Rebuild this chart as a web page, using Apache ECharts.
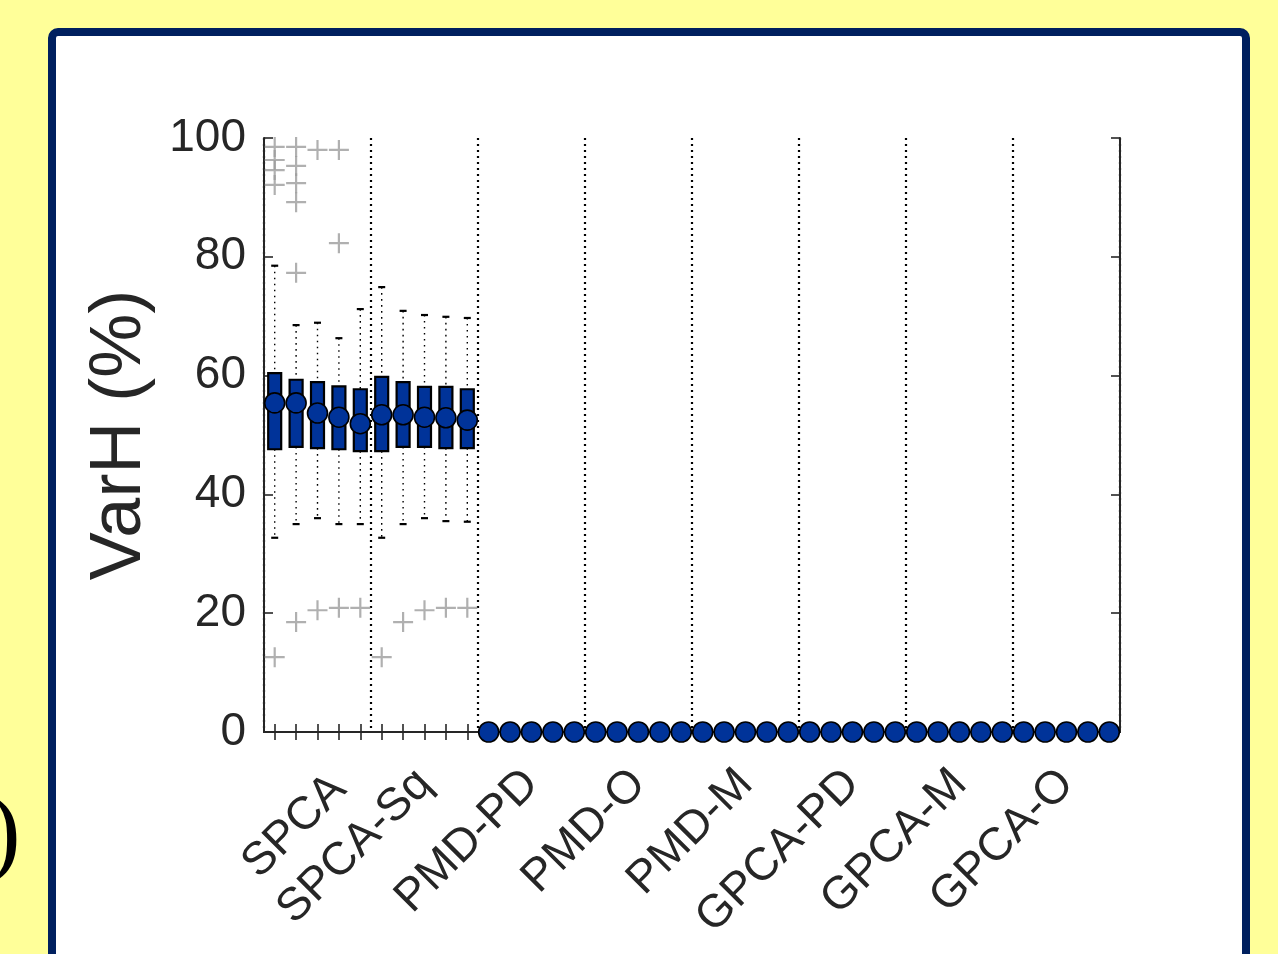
<!DOCTYPE html>
<html>
<head>
<meta charset="utf-8">
<script src="https://cdn.jsdelivr.net/npm/echarts@6/dist/echarts.min.js"></script>
<style>
  html, body { margin: 0; padding: 0; background: #ffff99; }
  #chart { width: 1278px; height: 954px; }
</style>
</head>
<body>
<div id="chart"></div>
<script>
// Method groups shown on the x axis; each group holds five runs.
const groups = ['SPCA', 'SPCA-Sq', 'PMD-PD', 'PMD-O', 'PMD-M', 'GPCA-PD', 'GPCA-M', 'GPCA-O'];
const runsPerGroup = 5;

// Box statistics per run (VarH, %), 40 runs in group order.
const whiskerLow = [32.7, 35.0, 36.0, 35.0, 35.0, 32.7, 35.0, 36.0, 35.5, 35.4,
  0, 0, 0, 0, 0, 0, 0, 0, 0, 0, 0, 0, 0, 0, 0, 0, 0, 0, 0, 0,
  0, 0, 0, 0, 0, 0, 0, 0, 0, 0];
const quartile1 = [47.6, 48.0, 47.8, 47.6, 47.3, 47.3, 48.0, 48.0, 47.8, 47.8,
  0, 0, 0, 0, 0, 0, 0, 0, 0, 0, 0, 0, 0, 0, 0, 0, 0, 0, 0, 0,
  0, 0, 0, 0, 0, 0, 0, 0, 0, 0];
const medians = [55.4, 55.4, 53.7, 53.0, 51.9, 53.4, 53.4, 53.0, 52.9, 52.5,
  0, 0, 0, 0, 0, 0, 0, 0, 0, 0, 0, 0, 0, 0, 0, 0, 0, 0, 0, 0,
  0, 0, 0, 0, 0, 0, 0, 0, 0, 0];
const quartile3 = [60.4, 59.3, 58.9, 58.2, 57.7, 59.8, 58.9, 58.1, 58.1, 57.7,
  0, 0, 0, 0, 0, 0, 0, 0, 0, 0, 0, 0, 0, 0, 0, 0, 0, 0, 0, 0,
  0, 0, 0, 0, 0, 0, 0, 0, 0, 0];
const whiskerHigh = [78.5, 68.5, 68.9, 66.3, 71.2, 74.9, 70.9, 70.2, 69.9, 69.7,
  0, 0, 0, 0, 0, 0, 0, 0, 0, 0, 0, 0, 0, 0, 0, 0, 0, 0, 0, 0,
  0, 0, 0, 0, 0, 0, 0, 0, 0, 0];

// Outliers per run (only the first ten runs have any).
const outliers = [
  [98.5, 96.3, 94.6, 92.1, 12.6],
  [98.5, 95.3, 92.4, 89.2, 77.3, 18.5],
  [98.0, 20.5],
  [98.0, 82.3, 20.9],
  [20.9],
  [12.6],
  [18.5],
  [20.5],
  [20.9],
  [20.9]
];

const yTicks = [0, 20, 40, 60, 80, 100];

const runNames = groups.flatMap(g => Array.from({ length: runsPerGroup }, (_, k) => g + ' #' + (k + 1)));
const boxRows = runNames.map((_, i) => [i, whiskerLow[i], quartile1[i], medians[i], quartile3[i], whiskerHigh[i]]);
const outlierPoints = [];
outliers.forEach((vals, i) => vals.forEach(v => outlierPoints.push([i, v])));

const ink = '#262626';
const boxBlue = '#003399';
const font = 'Liberation Sans, Arial, Helvetica, sans-serif';

// The first group's label is hung under its fourth run instead of the group centre.
const firstLabelRun = 3;

function renderBox(params, api) {
  const i = api.value(0);
  const lo = api.coord([i, api.value(1)]);
  const q1 = api.coord([i, api.value(2)]);
  const md = api.coord([i, api.value(3)]);
  const q3 = api.coord([i, api.value(4)]);
  const hi = api.coord([i, api.value(5)]);
  const x = lo[0];
  const halfBox = 6.5, halfCap = 3.5, r = 10;
  const dotted = { stroke: '#000', lineWidth: 1.4, lineDash: [1.6, 4.4] };
  const cap = { stroke: '#000', lineWidth: 2.2 };
  return {
    type: 'group',
    children: [
      { type: 'line', shape: { x1: x, y1: hi[1], x2: x, y2: q3[1] }, style: dotted },
      { type: 'line', shape: { x1: x, y1: q1[1], x2: x, y2: lo[1] }, style: dotted },
      { type: 'line', shape: { x1: x - halfCap, y1: hi[1], x2: x + halfCap, y2: hi[1] }, style: cap },
      { type: 'line', shape: { x1: x - halfCap, y1: lo[1], x2: x + halfCap, y2: lo[1] }, style: cap },
      { type: 'rect', shape: { x: x - halfBox, y: q3[1], width: 2 * halfBox, height: q1[1] - q3[1] },
        style: { fill: boxBlue, stroke: '#000', lineWidth: 2.2 } },
      { type: 'circle', shape: { cx: x, cy: md[1], r: r },
        style: { fill: boxBlue, stroke: '#000', lineWidth: 1.6 } }
    ]
  };
}

const chart = echarts.init(document.getElementById('chart'), null, { renderer: 'canvas' });

const catAxisBase = {
  type: 'category',
  data: runNames,
  boundaryGap: true,
  axisLine: { show: true, lineStyle: { color: ink, width: 2 } },
  axisTick: { show: true, inside: true, length: 8, alignWithLabel: true, interval: 0, lineStyle: { color: ink, width: 1.6 } },
  axisLabel: { show: false },
  splitLine: { show: false }
};

const valAxisBase = {
  type: 'value',
  min: yTicks[0],
  max: yTicks[yTicks.length - 1],
  interval: yTicks[1] - yTicks[0],
  axisLine: { show: true, lineStyle: { color: ink, width: 2 } },
  axisTick: { show: true, inside: true, length: 9, lineStyle: { color: ink, width: 1.6 } },
  splitLine: { show: false }
};

const slantedLabel = { interval: 0, rotate: 45, fontSize: 46, color: ink, fontFamily: font };

chart.setOption({
  backgroundColor: '#ffff99',
  animation: false,
  textStyle: { fontFamily: font },
  graphic: [
    {
      type: 'rect', z: -10,
      shape: { x: 52, y: 32, width: 1194, height: 980, r: 6 },
      style: { fill: '#ffffff', stroke: '#00205f', lineWidth: 8 }
    },
    {
      type: 'text', z: -5, left: -12, top: 788,
      style: { text: ')', fontSize: 98, fontFamily: 'Liberation Serif, serif', fill: '#000' }
    }
  ],
  grid: { left: 264, top: 138, width: 856, height: 594, containLabel: false },
  xAxis: [
    Object.assign({}, catAxisBase, { position: 'bottom' }),
    Object.assign({}, catAxisBase, { position: 'top' }),
    {
      // group axis: separators between groups and the remaining group labels
      type: 'category',
      data: groups,
      position: 'bottom',
      boundaryGap: true,
      axisLine: { show: false },
      axisTick: { show: false },
      axisLabel: Object.assign({}, slantedLabel, {
        margin: 45,
        formatter: (v, idx) => (idx === 0 ? '' : v)
      }),
      splitLine: { show: true, interval: 0, lineStyle: { color: '#000', width: 2.2, type: [2, 4] } }
    },
    {
      // run axis carrying the first group's label
      type: 'category',
      data: runNames,
      position: 'bottom',
      boundaryGap: true,
      axisLine: { show: false },
      axisTick: { show: false },
      axisLabel: Object.assign({}, slantedLabel, {
        margin: 50,
        formatter: (v, idx) => (idx === firstLabelRun ? groups[0] : '')
      }),
      splitLine: { show: false }
    }
  ],
  yAxis: [
    Object.assign({}, valAxisBase, {
      position: 'left',
      axisLabel: { fontSize: 46, color: ink, margin: 18, fontFamily: font },
      name: 'VarH (%)',
      nameLocation: 'middle',
      nameGap: 108,
      nameRotate: 90,
      nameTextStyle: { fontSize: 72, color: ink, fontFamily: font }
    }),
    Object.assign({}, valAxisBase, { position: 'right', axisLabel: { show: false } })
  ],
  series: [
    {
      type: 'scatter',
      xAxisIndex: 0,
      yAxisIndex: 0,
      data: outlierPoints,
      symbol: 'path://M0,10 L20,10 M10,0 L10,20',
      symbolSize: 20,
      itemStyle: { color: 'rgba(0,0,0,0)', borderColor: '#9c9c9c', borderWidth: 2.2 },
      z: 3
    },
    {
      type: 'custom',
      xAxisIndex: 0,
      yAxisIndex: 0,
      clip: false,
      renderItem: renderBox,
      encode: { x: 0, y: [1, 2, 3, 4, 5] },
      data: boxRows,
      z: 4
    }
  ]
});
</script>
</body>
</html>
